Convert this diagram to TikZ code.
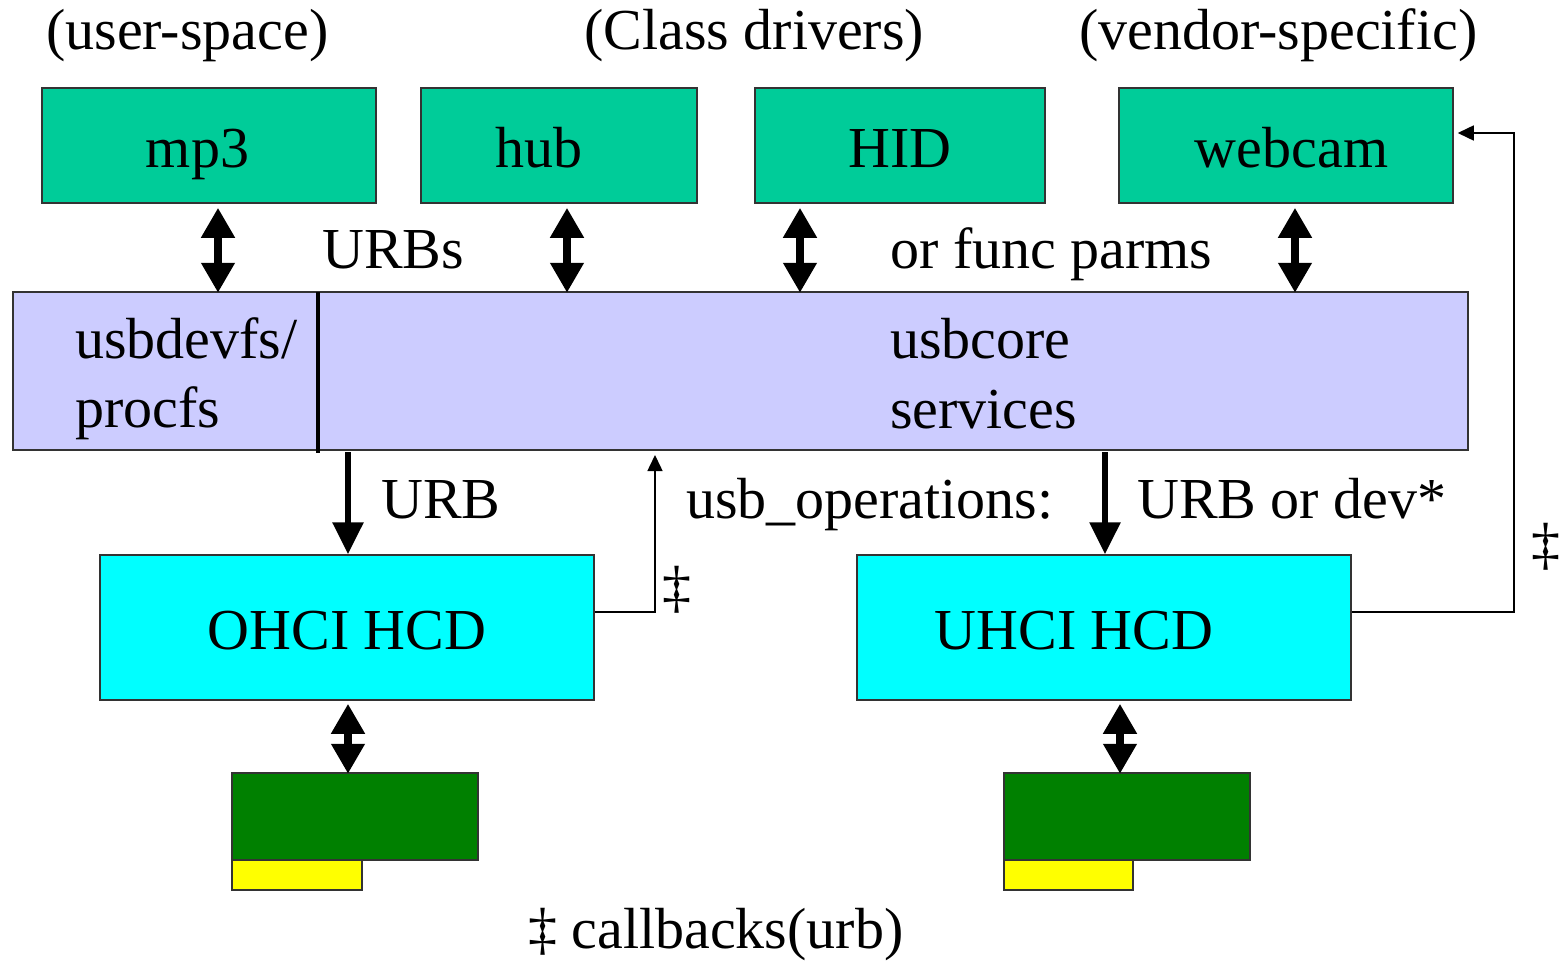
\documentclass[tikz,border=0pt]{standalone}
\usepackage{fontspec}
\setmainfont{Liberation Serif}
\usetikzlibrary{arrows.meta}
\definecolor{drvgreen}{HTML}{00CC99}
\definecolor{corelav}{HTML}{CCCCFF}
\definecolor{hcdcyan}{HTML}{00FFFF}
\definecolor{pcbgreen}{HTML}{008000}
\definecolor{chipyel}{HTML}{FFFF00}
\definecolor{edge}{HTML}{333333}
\begin{document}
\begin{tikzpicture}[x=1pt,y=-1pt,
  font=\fontsize{58pt}{66pt}\selectfont,
  box/.style={draw=edge,line width=1.5pt,inner sep=0pt,text height=50pt,text depth=6pt},
  plain/.style={draw=edge,line width=1.5pt,inner sep=0pt,text height=0pt,text depth=0pt},
  drv/.style={box,fill=drvgreen,minimum height=115pt},
  hcd/.style={box,fill=hcdcyan,minimum width=494pt,minimum height=145pt},
  pcb/.style={plain,fill=pcbgreen,minimum width=246pt,minimum height=87pt},
  chip/.style={plain,fill=chipyel,minimum width=130pt,minimum height=30pt},
  lbl/.style={anchor=base west,inner sep=0pt},
  dbl/.style={line width=8pt,{Triangle[length=30pt,width=32pt]}-{Triangle[length=30pt,width=32pt]}},
  down/.style={line width=6pt,-{Triangle[length=32pt,width=30pt]}},
  cb/.style={line width=1.5pt,-{Triangle[length=16pt,width=15pt]}}]
\useasboundingbox (0,0) rectangle (1564,966);

% top labels
\node[lbl] (lu) at (46,50) {(user-space)};
\node[lbl] (lc) at (584,50) {(Class drivers)};
\node[lbl] (lv) at (1079,50) {(vendor-specific)};

% drivers
\node[drv,minimum width=334pt] (mp3) at (209,145.5) {\kern-23pt mp3};
\node[drv,minimum width=276pt] (hub) at (559,145.5) {\kern-41pt hub};
\node[drv,minimum width=290pt] (hid) at (900,145.5) {HID};
\node[drv,minimum width=334pt] (webcam) at (1286,145.5) {\kern11pt webcam};

% core
\node[plain,fill=corelav,minimum width=1455pt,minimum height=158pt] (core) at (740.5,371) {};
\draw[line width=4pt] (318,292) -- (318,453);
\node[lbl] (t1) at (75,358) {usbdevfs/};
\node[lbl] (t2) at (75,427) {procfs};
\node[lbl] (t3) at (890,358) {usbcore};
\node[lbl] (t4) at (890,428) {services};

% middle labels
\node[lbl] (urbs) at (322,268) {URBs};
\node[lbl] (parms) at (890,268) {or func parms};
\node[lbl] (urb) at (381,518) {URB};
\node[lbl] (ops) at (686,518) {usb\_operations:};
\node[lbl] (urbdev) at (1137,518) {URB or dev*};

% host controllers
\node[hcd] (ohci) at (347,627.5) {OHCI HCD};
\node[hcd] (uhci) at (1104,627.5) {\kern-60pt UHCI HCD};

% hardware
\node[pcb] (pcbL) at (355,816.5) {};
\node[chip] (chipL) at (297,875) {};
\node[pcb] (pcbR) at (1127,816.5) {};
\node[chip,minimum width=129pt] (chipR) at (1068.5,875) {};

% double arrows drivers <-> core
\draw[dbl] ([xshift=9pt,yshift=-4pt]mp3.south) -- ++(0,85);
\draw[dbl] ([xshift=8pt,yshift=-4pt]hub.south) -- ++(0,85);
\draw[dbl] ([xshift=-100pt,yshift=-4pt]hid.south) -- ++(0,85);
\draw[dbl] ([xshift=9pt,yshift=-4pt]webcam.south) -- ++(0,85);

% core -> HCDs
\draw[down] ([xshift=1pt,yshift=102pt]ohci.north) -- ([xshift=1pt]ohci.north);
\draw[down] ([xshift=1pt,yshift=102pt]uhci.north) -- ([xshift=1pt]uhci.north);

% HCDs <-> hardware
\draw[dbl] ([xshift=1pt,yshift=-3pt]ohci.south) -- ++(0,70);
\draw[dbl] ([xshift=16pt,yshift=-3pt]uhci.south) -- ++(0,70);

% callbacks
\coordinate (cbO) at (655,455);
\draw[cb] ([yshift=15.5pt]ohci.east) -| (cbO);
\draw[cb] ([yshift=15.5pt]uhci.east) -- ++(162,0) |- ([xshift=4pt,yshift=12.5pt]webcam.east);
\node[inner sep=0pt] (dagO) at (677,590) {‡};
\node[inner sep=0pt] (dagU) at (1546,547) {‡};
\node[lbl] (legend) at (528,948) {‡ callbacks(urb)};
\end{tikzpicture}
\end{document}
